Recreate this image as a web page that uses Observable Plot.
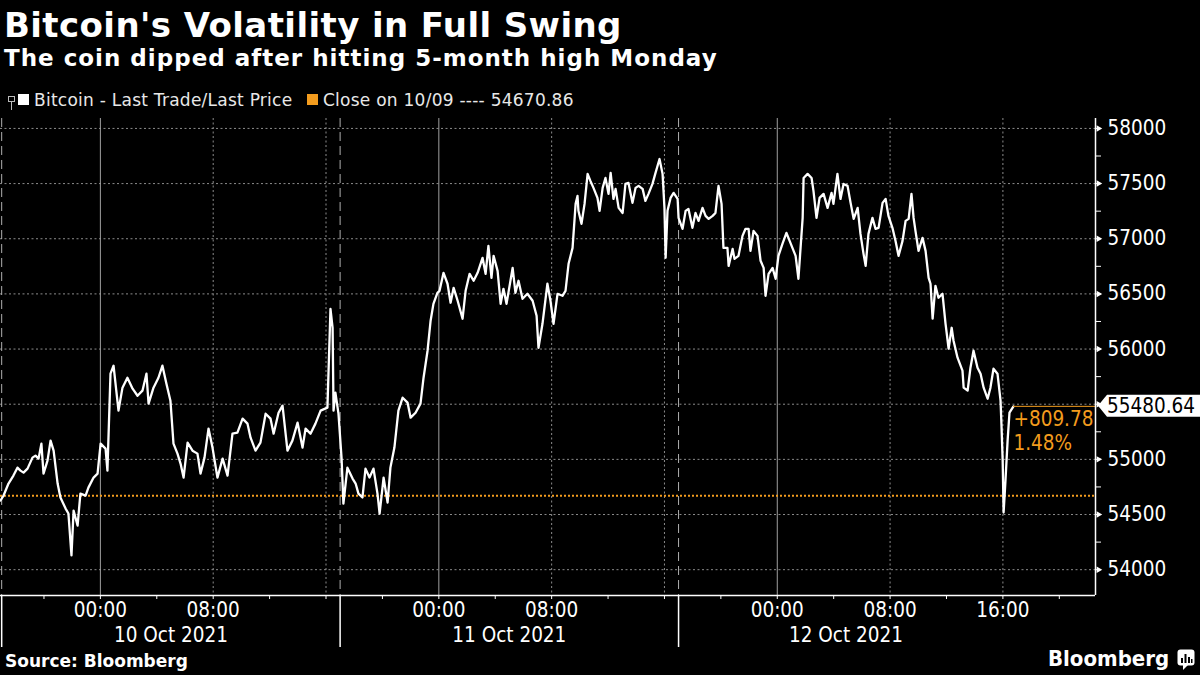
<!DOCTYPE html>
<html>
<head>
<meta charset="utf-8">
<script src="https://cdn.jsdelivr.net/npm/d3@7"></script>
<script src="https://cdn.jsdelivr.net/npm/@observablehq/plot@0.6"></script>
<style>
html, body { margin: 0; padding: 0; background: #000; }
body { width: 1200px; height: 675px; position: relative; overflow: hidden; color: #fff; font-family: "DejaVu Sans", sans-serif; }
.abs { position: absolute; white-space: nowrap; line-height: 1; }
.cond { font-family: "DejaVu Sans Condensed", "DejaVu Sans", sans-serif; font-stretch: condensed; }
#title { left: 4px; top: 8px; font-size: 34px; font-weight: bold; letter-spacing: 0.4px; }
#subtitle { left: 4px; top: 47px; font-size: 23px; font-weight: bold; letter-spacing: 1px; }
#legend { left: 0; top: 93px; width: 700px; height: 18px; font-size: 17px; color: #e8e8e8; }
#legend .sw { position: absolute; top: 1px; width: 11px; height: 11px; }
#legend .txt { position: absolute; top: -1px; letter-spacing: 0.25px; }
#chart { position: absolute; left: 0; top: 112px; }
#chart svg text { font-stretch: condensed; }
#source { left: 5px; top: 653px; font-size: 17px; font-weight: bold; }
#logo { left: 1048px; top: 648px; font-size: 22px; font-weight: bold; }
#logoicon { position: absolute; left: 1177px; top: 649px; }
</style>
</head>
<body>
<div id="title" class="abs">Bitcoin's Volatility in Full Swing</div>
<div id="subtitle" class="abs">The coin dipped after hitting 5-month high Monday</div>
<div id="legend" class="abs">
  <svg style="position:absolute;left:8px;top:3px" width="8" height="15"><rect x="0.5" y="0.5" width="6" height="5" fill="none" stroke="#bbb"/><line x1="3.5" y1="5.5" x2="3.5" y2="14" stroke="#bbb"/></svg>
  <span class="sw" style="left:18px;background:#fff"></span>
  <span class="txt" id="leg1" style="left:34px"></span>
  <span class="sw" style="left:307px;background:#f39c1e"></span>
  <span class="txt" id="leg2" style="left:323px"></span>
</div>
<div id="chart"></div>
<div id="source" class="abs">Source: Bloomberg</div>
<div id="logo" class="abs cond">Bloomberg</div>
<svg id="logoicon" width="19" height="22">
  <rect x="0.5" y="0.5" width="17" height="16" rx="3" fill="#fff"/>
  <path d="M6,16 L6,21 L11,16 Z" fill="#fff"/>
  <rect x="4" y="9" width="2" height="5" fill="#000"/>
  <rect x="7.5" y="5" width="2" height="9" fill="#000"/>
  <rect x="11" y="8" width="2" height="6" fill="#000"/>
  <rect x="14" y="10" width="1.5" height="4" fill="#000"/>
</svg>
<script>
// ---------- data ----------
const seriesName = "Bitcoin - Last Trade/Last Price";
const closeLabel = "Close on 10/09";
const closePrice = 54670.86;
const startTime = "2021-10-09T16:55:00Z";   // left edge of the chart; minutes below count from here
const endTime = "2021-10-12T22:34:00Z";     // right edge of the chart
const minutes = [
  0,13,34,55,72,85,98,115,136,149,162,174,183,200,213,226,243,255,277,289,
  302,311,328,340,362,374,396,413,426,447,455,468,481,502,519,540,562,583,604,621,
  630,651,672,689,706,723,736,753,766,779,796,817,838,851,868,885,902,923,945,966,
  987,1008,1030,1051,1064,1085,1106,1128,1149,1162,1183,1200,1221,1242,1264,1285,1298,1319,1340,1362,
  1391,1404,1413,1417,1425,1438,1451,1459,1476,1498,1511,1523,1540,1553,1570,1587,1604,1613,1630,1647,
  1659,1676,1693,1711,1732,1745,1766,1787,1800,1817,1830,1842,1859,1868,1885,1902,1915,1928,1945,1966,
  1979,1996,2013,2030,2051,2064,2076,2089,2098,2115,2128,2140,2153,2179,2191,2204,2221,2242,2264,2281,
  2289,2306,2327,2340,2353,2370,2391,2404,2417,2434,
  2447,2455,2459,2472,2485,2498,2510,2523,2540,2549,2562,2574,2587,2596,2608,2617,2630,2647,2659,2672,
  2689,2702,2715,2732,2744,2757,2774,2787,2804,2817,2825,2830,2838,2851,2864,2881,2885,2902,2915,2927,
  2944,2957,2970,2987,3000,3013,3030,3042,3055,3068,3076,3093,3098,3115,3123,3140,3157,3170,3183,3191,
  3204,3221,3234,3247,3255,3268,3285,3298,3310,3327,3344,3361,3383,3395,3413,3417,3434,3451,3459,3472,
  3485,3502,3519,3536,3544,3561,3574,3587,3604,3617,3630,3647,3659,3672,3681,3693,3710,3723,3736,3753,
  3766,3778,3795,3808,3821,3838,3851,3864,3876,3885,3893,3906,3923,3936,3949,3957,3966,3978,3991,4008,
  4021,4034,4047,4055,4072,4093,4098,4115,4127,4140,4157,4170,4183,4200,4212,4225,4242,4255,4259,4264,
  4268,4276,4285,4293,4310
];
const prices = [
  54627,54672,54781,54853,54925,54898,54880,54916,55016,55034,55007,55143,54871,54989,55170,55079,54781,54654,54554,54509,
  54129,54536,54400,54690,54672,54744,54835,54871,55143,55097,54898,55777,55849,55442,55650,55740,55641,55577,55623,55777,
  55505,55650,55740,55849,55686,55532,55143,55052,54962,54835,55152,55079,55052,54871,55016,55279,55107,54835,55007,54853,
  55233,55242,55369,55324,55197,55079,55152,55414,55369,55233,55423,55487,55079,55170,55333,55107,55279,55233,55324,55442,
  55469,56365,56193,55442,55605,55414,55016,54599,54925,54826,54781,54690,54654,54916,54835,54916,54690,54509,54835,54609,
  54925,55107,55442,55559,55514,55378,55423,55505,55740,55985,56257,56410,56510,56528,56691,56592,56420,56555,56438,56275,
  56528,56682,56619,56691,56827,56682,56936,56646,56845,56709,56410,56546,56410,56736,56510,56619,56456,56501,56438,56302,
  56012,56229,56592,56438,56229,56501,56483,56528,56773,56917,
  57316,57388,57253,57135,57316,57588,57524,57461,57370,57253,57461,57551,57407,57597,57361,57452,57280,57234,57497,57506,
  57325,57461,57479,57452,57343,57407,57497,57597,57723,57588,57280,56827,57253,57370,57416,57361,57189,57090,57253,57271,
  57099,57234,57162,57280,57207,57180,57207,57234,57479,57316,56917,56917,56754,56908,56818,56845,57026,57090,57090,56890,
  57071,57026,56800,56736,56483,56682,56736,56637,56845,56954,57053,56963,56845,56637,57189,57551,57588,57551,57434,57189,
  57370,57407,57280,57416,57316,57588,57361,57497,57479,57325,57180,57280,57044,56863,56754,57044,57189,57090,57099,57325,
  57361,57207,57099,56981,56845,56981,57162,57180,57407,57189,57071,56890,57008,56890,56646,56592,56275,56573,56465,56501,
  56229,56003,56193,56075,55922,55804,55650,55623,55831,55985,55831,55777,55650,55550,55650,55822,55777,55532,55306,54989,
  54518,54808,55170,55423,55480.64
];
const priceTicks = [54000, 54500, 55000, 55500, 56000, 56500, 57000, 57500, 58000];
const priceMinorTicks = [54000, 54250, 54500, 54750, 55000, 55250, 55500, 55750, 56000, 56250, 56500, 56750, 57000, 57250, 57500, 57750, 58000];
const yDomain = [53766, 58090];
const timeTickTimes = ["2021-10-10T00:00:00Z", "2021-10-10T08:00:00Z", "2021-10-11T00:00:00Z", "2021-10-11T08:00:00Z", "2021-10-12T00:00:00Z", "2021-10-12T08:00:00Z", "2021-10-12T16:00:00Z"];
const timeTickLabels = ["00:00", "08:00", "00:00", "08:00", "00:00", "08:00", "16:00"];
const sessionStarts = ["2021-10-09T17:00:00Z", "2021-10-10T17:00:00Z", "2021-10-11T17:00:00Z"];
const dayLabels = ["10 Oct 2021", "11 Oct 2021", "12 Oct 2021"];

// ---------- build ----------
const ORANGE = "#f39c1e";
const COND = "'DejaVu Sans Condensed', 'DejaVu Sans', sans-serif";
const T0 = new Date(startTime);
const series = minutes.map((m, i) => ({time: new Date(T0.getTime() + m * 60000), price: prices[i]}));
const last = series[series.length - 1];
const xDomain = [T0, new Date(endTime)];
const change = last.price - closePrice;
const changeText = (change >= 0 ? "+" : "") + change.toFixed(2);
const pctText = (change / closePrice * 100).toFixed(2) + "%";

document.getElementById("leg1").textContent = seriesName;
document.getElementById("leg2").textContent = closeLabel + " ---- " + closePrice.toFixed(2);

const sessionDates = sessionStarts.map(s => new Date(s));
const dayMarks = dayLabels.map((label, i) => {
  const a = sessionDates[i].getTime();
  const b = i + 1 < sessionDates.length ? sessionDates[i + 1].getTime() : last.time.getTime();
  return {label, time: new Date((a + Math.min(b, last.time.getTime())) / 2)};
});
const timeTicks = timeTickTimes.map((t, i) => ({time: new Date(t), label: timeTickLabels[i]}));
const fourHour = d3.utcHour.every(4).range(xDomain[0], xDomain[1]);
const midnights = d3.utcDay.range(xDomain[0], xDomain[1]);
const eightHour = d3.utcHour.every(8).range(xDomain[0], xDomain[1]).filter(d => d.getUTCHours() !== 0);
// the last-price tag covers the tick label right next to it (as in the reference)
const hiddenByTag = d => Math.abs(d - last.price) < 150;

function priceTag(index, scales, values, dimensions) {
  const ns = "http://www.w3.org/2000/svg";
  const y = scales.y(last.price);
  const x0 = dimensions.width - dimensions.marginRight + 3;
  const g = document.createElementNS(ns, "g");
  const p = document.createElementNS(ns, "path");
  p.setAttribute("d", `M${x0},${y}L${x0 + 9},${y - 11}H${dimensions.width}V${y + 11}H${x0 + 9}Z`);
  p.setAttribute("fill", "#fff");
  g.appendChild(p);
  const t = document.createElementNS(ns, "text");
  t.setAttribute("x", x0 + 9);
  t.setAttribute("y", y);
  t.setAttribute("dy", "0.36em");
  t.setAttribute("fill", "#000");
  t.setAttribute("text-anchor", "start");
  t.setAttribute("font-size", "20.5");
  t.textContent = last.price.toFixed(2);
  g.appendChild(t);
  return g;
}

const chart = Plot.plot({
  width: 1200,
  height: 540,
  marginTop: 6,
  marginRight: 105,
  marginBottom: 57,
  marginLeft: 0,
  style: {background: "#000", color: "#fff", fontFamily: COND, fontSize: "20px", overflow: "visible"},
  x: {type: "utc", domain: xDomain, axis: null},
  y: {domain: yDomain, axis: null},
  marks: [
    Plot.ruleY(priceTicks, {stroke: "#8c8c8c", strokeDasharray: "2,2.5"}),
    Plot.ruleX(eightHour, {stroke: "#8c8c8c", strokeDasharray: "2,2.5"}),
    Plot.ruleX(midnights, {stroke: "#a0a0a0"}),
    Plot.ruleX(sessionDates, {stroke: "#b0b0b0", strokeDasharray: "9,5"}),
    Plot.ruleY([closePrice], {stroke: ORANGE, strokeWidth: 2, strokeDasharray: "2,2"}),
    Plot.line(series, {x: "time", y: "price", stroke: "#fff", strokeWidth: 2.3}),
    Plot.ruleY([last], {y: "price", x1: "time", x2: () => xDomain[1], stroke: ORANGE, strokeWidth: 1}),
    Plot.text([last], {x: "time", y: "price", text: () => changeText, dy: 13, textAnchor: "start", fill: ORANGE, fontSize: 20.5}),
    Plot.text([last], {x: "time", y: "price", text: () => pctText, dy: 37, textAnchor: "start", fill: ORANGE, fontSize: 20.5}),
    Plot.ruleY([yDomain[0]], {stroke: "#fff", strokeWidth: 1.5}),
    Plot.ruleX([xDomain[1]], {stroke: "#fff", strokeWidth: 1.5}),
    Plot.axisX(fourHour, {tickSize: 4, tickFormat: () => "", stroke: "#fff", label: null}),
    Plot.axisX(sessionDates, {tickSize: 52, tickFormat: () => "", stroke: "#fff", strokeWidth: 1.5, label: null}),
    Plot.text(timeTicks, {x: "time", y: () => yDomain[0], text: "label", dy: 15, fill: "#fff", fontSize: 20.5}),
    Plot.text(dayMarks, {x: "time", y: () => yDomain[0], text: "label", dy: 40, fill: "#fff", fontSize: 20.5}),
    Plot.axisY(priceMinorTicks, {anchor: "right", tickSize: 5, tickPadding: 7, tickFormat: d => (d % 500 === 0 && !hiddenByTag(d)) ? String(d) : "", color: "#fff", fontSize: 20.5, label: null}),
    Plot.dot(priceTicks, {x: () => xDomain[1], y: d => d, symbol: "triangle", rotate: 90, r: 2.4, fill: "#fff", dx: 3}),
    priceTag
  ]
});
document.getElementById("chart").appendChild(chart);
</script>
</body>
</html>
